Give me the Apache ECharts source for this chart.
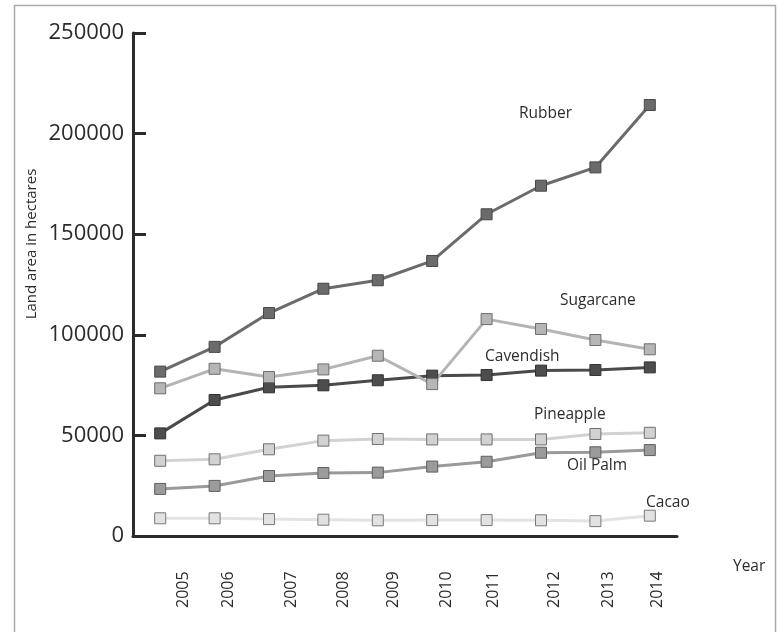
<!DOCTYPE html>
<html>
<head>
<meta charset="utf-8">
<script src="https://cdn.jsdelivr.net/npm/echarts@6/dist/echarts.min.js"></script>
<style>
  html, body { margin: 0; padding: 0; background: #fff; }
  #chart { width: 778px; height: 632px; }
</style>
</head>
<body>
<div id="chart"></div>
<script>
// data
const years = ['2005', '2006', '2007', '2008', '2009', '2010', '2011', '2012', '2013', '2014']
const rubber = [81700, 94000, 110800, 122900, 127100, 136700, 159900, 174100, 183200, 214200]
const sugarcane = [73400, 83100, 79000, 82800, 89600, 75500, 107800, 102900, 97400, 92800]
const cavendish = [51000, 67600, 73900, 74900, 77400, 79700, 80000, 82200, 82500, 83800]
const pineapple = [37400, 38100, 43100, 47400, 48200, 48000, 48000, 48000, 50700, 51300]
const oilPalm = [23400, 24900, 29800, 31300, 31500, 34500, 36900, 41400, 41600, 42700]
const cacao = [8800, 8800, 8400, 8100, 7800, 7900, 7900, 7800, 7400, 10100]
const yTicks = [0, 50000, 100000, 150000, 200000, 250000]

// year labels sit a little right of each point (px), not evenly
const labelShift = [23, 14, 22, 20, 16, 14, 7, 13, 13, 8]

const FONT = '"Open Sans", "Noto Sans", sans-serif'
const AXIS = '#2b2b2b'

const chart = echarts.init(document.getElementById('chart'), null, { renderer: 'canvas' })

const rich = {}
labelShift.forEach((s, i) => {
  rich['s' + i] = { padding: [s * 2, 0, 0, 0], fontSize: 16, fontFamily: FONT, color: '#2b2b2b' }
})

function makeSeries(name, data, line, fill, border) {
  return {
    name: name,
    type: 'line',
    data: data,
    symbol: 'rect',
    symbolSize: 11,
    lineStyle: { color: line, width: 3 },
    itemStyle: { color: fill, borderColor: border, borderWidth: 1 },
    emphasis: { disabled: true }
  }
}

function tag(text, left, top) {
  return {
    type: 'text',
    left: left,
    top: top,
    silent: true,
    style: { text: text, font: '15.5px ' + FONT, fill: '#2e2a33' }
  }
}

const option = {
  animation: false,
  grid: { left: 133, right: 101, top: 33, bottom: 96 },
  xAxis: {
    type: 'category',
    data: years,
    boundaryGap: true,
    axisLine: { lineStyle: { color: AXIS, width: 3 } },
    axisTick: { inside: true, length: 12, lineStyle: { color: AXIS, width: 3 } },
    axisLabel: {
      interval: 0,
      rotate: 90,
      align: 'left',
      margin: 72,
      rich: rich,
      formatter: (v, i) => '{s' + i + '|' + v + '}'
    },
    splitLine: { show: false }
  },
  yAxis: {
    type: 'value',
    min: yTicks[0],
    max: yTicks[yTicks.length - 1],
    interval: 50000,
    axisLine: { show: true, lineStyle: { color: AXIS, width: 3 } },
    axisTick: { show: true, inside: true, length: 13, lineStyle: { color: AXIS, width: 3 } },
    axisLabel: {
      fontSize: 22,
      fontFamily: FONT,
      color: '#2b2b2b',
      margin: 9,
      formatter: v => String(v)
    },
    splitLine: { show: false }
  },
  series: [
    makeSeries('Cacao', cacao, '#e3e3e3', '#e2e2e2', '#7a7a7a'),
    makeSeries('Oil Palm', oilPalm, '#9a9a9a', '#9b9b9b', '#5e5e5e'),
    makeSeries('Pineapple', pineapple, '#d2d2d2', '#d2d2d2', '#707070'),
    makeSeries('Cavendish', cavendish, '#4a4a4a', '#4d4d4d', '#333333'),
    makeSeries('Sugarcane', sugarcane, '#b4b4b4', '#b6b6b6', '#6e6e6e'),
    makeSeries('Rubber', rubber, '#6b6b6b', '#6b6b6b', '#484848')
  ],
  graphic: [
    {
      type: 'rect',
      silent: true,
      z: -10,
      shape: { x: 14.5, y: 5.5, width: 761, height: 700 },
      style: { fill: 'none', stroke: '#aaaaaa', lineWidth: 1.5 }
    },
    {
      type: 'text',
      silent: true,
      x: 32,
      y: 244,
      rotation: Math.PI / 2,
      style: {
        text: 'Land area in hectares',
        font: '15px ' + FONT,
        fill: '#2b2b2b',
        align: 'center',
        verticalAlign: 'middle'
      }
    },
    tag('Year', 733, 559),
    tag('Rubber', 519, 106),
    tag('Sugarcane', 560, 293),
    tag('Cavendish', 485, 349),
    tag('Pineapple', 534, 407),
    tag('Oil Palm', 567, 458),
    tag('Cacao', 646, 495)
  ]
}

chart.setOption(option)
</script>
</body>
</html>
